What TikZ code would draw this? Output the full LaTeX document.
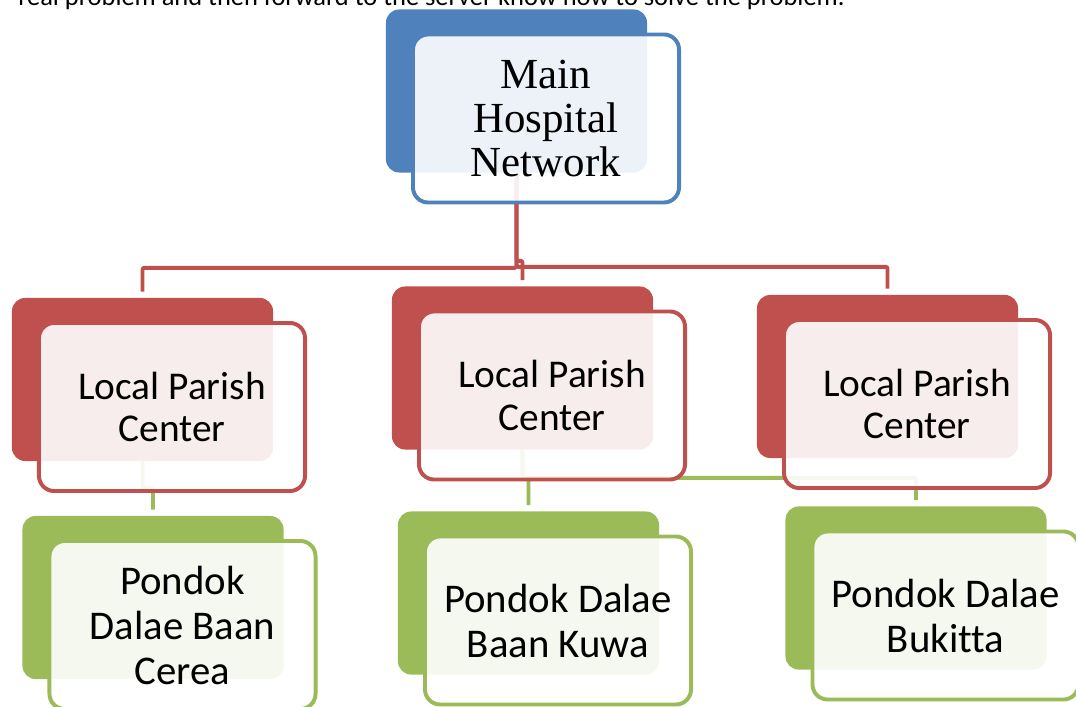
\documentclass[tikz,border=0pt]{standalone}
\usepackage{fontspec}
\setmainfont{Carlito}[Ligatures=NoCommon]
\newfontfamily\timesfont{Liberation Serif}
\usetikzlibrary{positioning,backgrounds}
\definecolor{hospblue}{HTML}{4F81BD}
\definecolor{parishred}{HTML}{C0504D}
\definecolor{pondokgreen}{HTML}{9BBB59}
\tikzset{
  backbox/.style={
    rectangle, rounded corners=0.33cm, fill=#1,
    minimum width=6.525cm, minimum height=4.075cm, inner sep=0pt
  },
  frontbox/.style={
    rectangle, rounded corners=0.38cm, draw=#1, line width=2.8pt,
    fill=white, fill opacity=0.9, text opacity=1,
    minimum width=6.65cm, minimum height=4.2cm,
    align=center, inner sep=0pt
  },
  parishtext/.style={font=\fontsize{28}{30}\selectfont},
  pondoktext/.style={font=\fontsize{29}{32}\selectfont},
  linkline/.style={draw=#1, line width=2.8pt, rounded corners=0.05cm,
    shorten >=0.15cm},
}

\begin{document}
\begin{tikzpicture}[x=0.025cm, y=-0.025cm]
  \useasboundingbox (0,0) rectangle (1076,707);
  \clip (0,0) rectangle (1076,707);

  % line of the page text above the chart
  \node[anchor=base west, inner sep=0pt, font=\fontsize{18.8}{22}\selectfont] (pagetext) at (18,6)
    {real problem and then forward to the server know how to solve the problem.};

  % top level
  \node[backbox=hospblue] (hospitalback) at (516.5,91) {};
  \node[frontbox=hospblue, font=\timesfont\fontsize{30.5}{31}\selectfont]
    (hospital) at ([shift={(29.5,27.5)}]hospitalback.center) {Main\\Hospital\\Network};

  % parish centers
  \node[backbox=parishred] (parishleftback) at (142.5,379.5) {};
  \node[frontbox=parishred, parishtext]
    (parishleft) at ([shift={(29.5,27.5)}]parishleftback.center) {Local Parish\\Center};
  \node[backbox=parishred] (parishmidback) at (522.5,368) {};
  \node[frontbox=parishred, parishtext]
    (parishmid) at ([shift={(29.5,27.5)}]parishmidback.center) {Local Parish\\Center};
  \node[backbox=parishred] (parishrightback) at (887.5,376.5) {};
  \node[frontbox=parishred, parishtext]
    (parishright) at ([shift={(29.5,27.5)}]parishrightback.center) {Local Parish\\Center};

  % pondoks
  \node[backbox=pondokgreen] (pondokleftback) at (153,597.5) {};
  \node[frontbox=pondokgreen, pondoktext]
    (pondokleft) at ([shift={(29.5,27.5)}]pondokleftback.center) {Pondok\\Dalae Baan\\Cerea};
  \node[backbox=pondokgreen] (pondokmidback) at (528.5,593) {};
  \node[frontbox=pondokgreen, pondoktext]
    (pondokmid) at ([shift={(29.5,27.5)}]pondokmidback.center) {Pondok Dalae\\Baan Kuwa};
  \node[backbox=pondokgreen] (pondokrightback) at (916,588) {};
  \node[frontbox=pondokgreen, pondoktext]
    (pondokright) at ([shift={(29.5,27.5)}]pondokrightback.center) {Pondok Dalae\\Bukitta};

  \begin{scope}[on background layer]
    \draw[linkline=parishred] (hospitalback.south) -- ++(0,95) -| (parishleftback.north);
    \draw[linkline=parishred] (hospitalback.south) -- ++(0,88) -| (parishmidback.north);
    \draw[linkline=parishred] (hospitalback.south) -- ++(0,94) -| (parishrightback.north);
    \draw[linkline=pondokgreen] (parishleftback.south) -- ++(0,27) -| (pondokleftback.north);
    \draw[linkline=pondokgreen] (parishmidback.south) -- ++(0,28) -| (pondokmidback.north);
    \draw[linkline=pondokgreen] (parishmidback.south) -- ++(0,28) -| (pondokrightback.north);
  \end{scope}
\end{tikzpicture}
\end{document}
